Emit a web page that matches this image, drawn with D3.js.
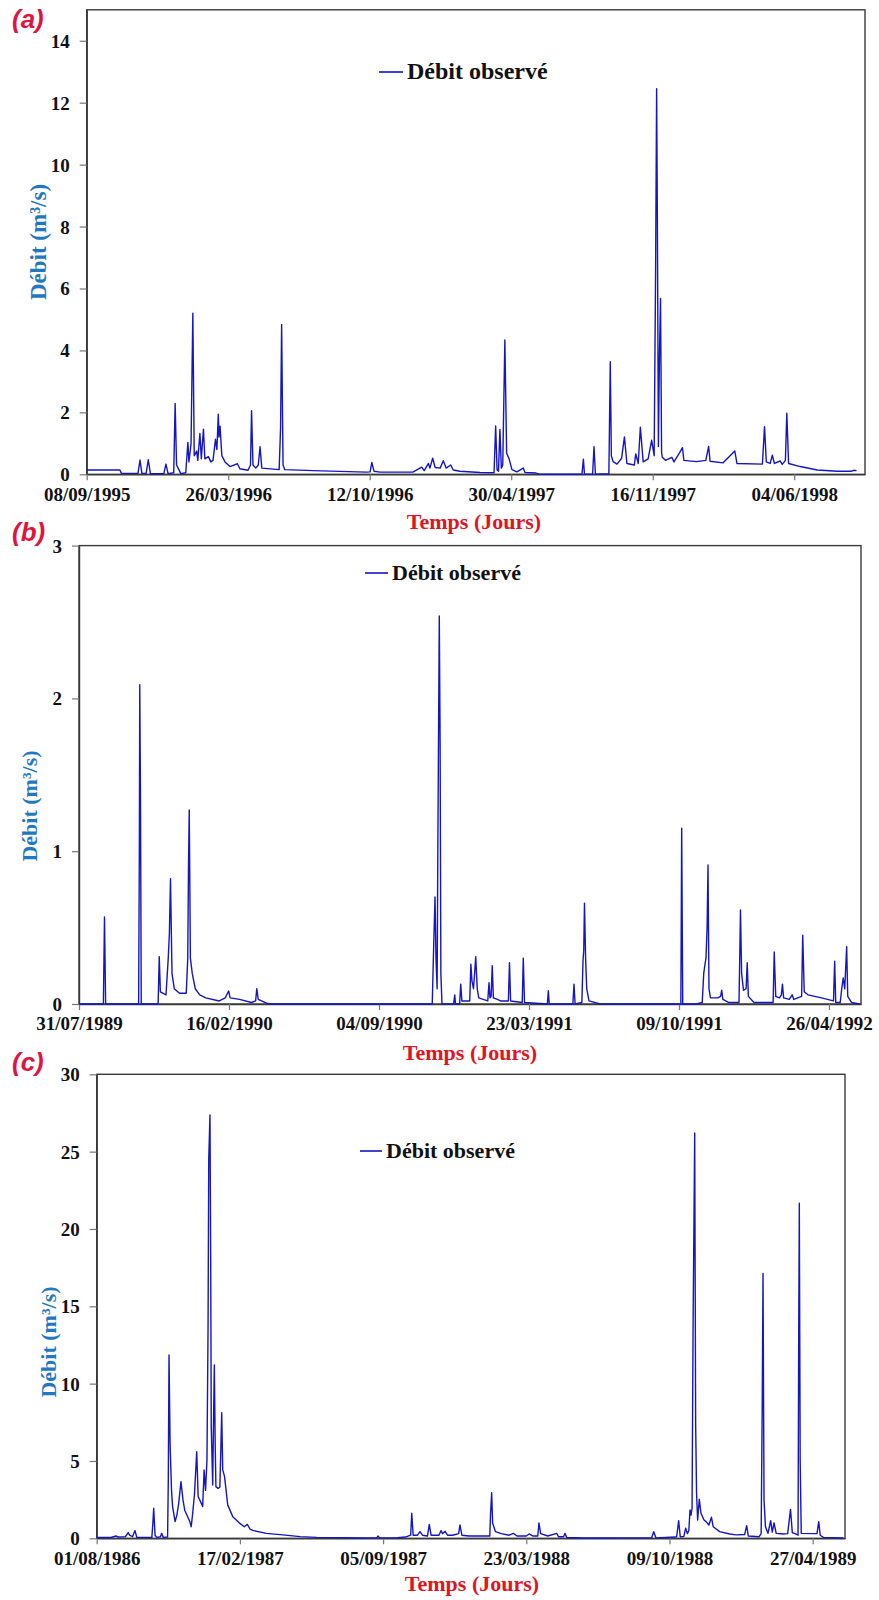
<!DOCTYPE html>
<html>
<head>
<meta charset="utf-8">
<script src="https://cdn.jsdelivr.net/npm/d3@7"></script>
<style>
  body { margin: 0; background: #fff; }
  svg { display: block; }
  .tick text { font-family: "Liberation Serif", "Times New Roman", serif; font-weight: bold; font-size: 19px; fill: #111; }
</style>
</head>
<body>
<script>
// tick labels (dates every 200 days) for each panel
var ticksA = ["08/09/1995", "26/03/1996", "12/10/1996", "30/04/1997", "16/11/1997", "04/06/1998"];
var ticksB = ["31/07/1989", "16/02/1990", "04/09/1990", "23/03/1991", "09/10/1991", "26/04/1992"];
var ticksC = ["01/08/1986", "17/02/1987", "05/09/1987", "23/03/1988", "09/10/1988", "27/04/1989"];

var yTicksA = [0, 2, 4, 6, 8, 10, 12, 14];
var yTicksB = [0, 1, 2, 3];
var yTicksC = [0, 5, 10, 15, 20, 25, 30];

var flowA = [[0,0.14],[47,0.14],[49,0.03],[72.5,0.03],[75.3,0.46],[78,0.03],[84,0.03],[87,0.47],[90,0.02],
  [109,0.02],[112,0.33],[115,0.02],[123,0.05],[125,2.29],[127,0.3],[131,0.12],[133,0.02],[140,0.05],
  [143,1.03],[144.5,0.4],[147.5,1.0],[150,5.2],[152,0.6],[155.5,0.75],[157,0.45],[160,1.32],[162,0.5],
  [165,1.46],[167,0.5],[172,0.57],[175.5,0.4],[178.5,0.45],[182,1.13],[184,0.8],[186,1.94],[187,1.2],
  [188.5,1.55],[191,0.6],[195.5,0.4],[202.5,0.25],[213,0.34],[216.5,0.18],[228,0.13],[231.5,0.3],
  [233,2.05],[235,0.3],[239,0.2],[242.5,0.3],[245,0.89],[247.5,0.2],[272,0.15],[274,1.5],[275.5,4.84],
  [277.5,0.3],[280,0.15],[320,0.12],[395,0.07],[400.5,0.08],[403,0.38],[406,0.1],[414.5,0.07],[461,0.07],
  [473.5,0.23],[477,0.12],[483,0.35],[485,0.2],[489,0.52],[492.5,0.22],[499.5,0.2],[504,0.44],[508,0.2],
  [514.5,0.3],[518,0.14],[527.5,0.1],[556,0.06],[575.7,0.05],[578,1.56],[580,0.15],[582,0.1],[584,1.45],
  [586,0.2],[588,0.3],[591,4.34],[593.5,0.68],[597,0.5],[601,0.15],[608,0.08],[617,0.2],[619.5,0.06],
  [635,0.04],[640.5,0],[700,0],[702,0.49],[703.5,0],[715,0],[717,0.89],[719,0],[738,0.02],[740,3.64],
  [741.5,0.6],[744,0.41],[749.5,0.33],[756,0.52],[760,1.21],[763.5,0.35],[774,0.3],[776,0.66],[779.5,0.35],
  [782.5,1.52],[786.5,0.4],[793.5,0.5],[798.5,1.1],[802,0.6],[804,6.4],[805.5,12.45],[806.5,8.45],
  [808,0.9],[809.5,3.85],[811,5.68],[812.5,0.7],[813.5,0.55],[818,0.45],[827,0.55],[830,0.4],[838,0.7],
  [842,0.86],[844,0.45],[862,0.41],[875,0.45],[879,0.9],[881,0.42],[899.5,0.37],[916,0.75],[919,0.35],
  [955,0.33],[958,1.54],[960.5,0.4],[966,0.35],[969,0.62],[972,0.35],[980,0.43],[983,0.32],[987.5,0.45],
  [989.5,1.97],[992,0.35],[1008.5,0.25],[1032.5,0.14],[1061,0.1],[1081,0.1],[1084,0.13],[1088,0.12]];

var flowB = [[0,0],[32.5,0],[34,0.57],[35.5,0],[79.5,0],[80.5,1.05],[81,2.09],[82,1.35],[83,0],[105.5,0],
  [107,0.31],[108.5,0.08],[116,0.06],[119,0.3],[120.5,0.46],[122,0.82],[124,0.2],[127,0.1],[134,0.07],
  [143,0.07],[145,0.3],[146,0.9],[147,1.27],[148.5,0.3],[151,0.2],[155,0.1],[161,0.06],[169,0.04],
  [187,0.02],[195,0.04],[199.5,0.085],[201.5,0.04],[214,0.03],[230,0.01],[235.5,0.02],[237,0.1],[239,0.03],
  [250,0.005],[256,0],[471,0],[472.5,0.3],[474.7,0.7],[476,0.3],[477.5,0.1],[478.5,1.05],[480.4,2.54],
  [481.5,1.7],[482.5,0.2],[484,0],[499.5,0],[501,0.06],[502,0],[507.5,0],[509,0.13],[510.5,0.02],[521,0.02],
  [522.5,0.26],[524,0.15],[526,0.1],[527.5,0.2],[529,0.31],[531,0.1],[533,0.04],[545,0.02],[546.7,0.14],
  [548,0.04],[549.5,0.05],[551,0.25],[552.5,0.04],[558,0.03],[562,0.02],[572.5,0.02],[574,0.27],[575.5,0.02],
  [591,0.01],[592.4,0.3],[594,0.01],[624.5,0],[625.8,0.087],[627,0],[658.5,0],[660,0.13],[661.5,0],
  [670.5,0.01],[672,0.28],[673,0.35],[674,0.66],[675.5,0.3],[677,0.1],[680,0.02],[695,0],[802.5,0],
  [803.6,1.15],[805,0],[823,0],[831,0.01],[833,0.2],[834.7,0.26],[836,0.3],[837.5,0.5],[838.7,0.91],
  [840,0.1],[842,0.04],[852,0.04],[855.5,0.05],[857,0.09],[858.5,0.03],[866,0.01],[880,0.01],[881,0.3],
  [882,0.615],[883.5,0.2],[886,0.09],[889.5,0.1],[891,0.27],[892.5,0.05],[900,0.01],[925.5,0.01],[927,0.34],
  [929,0.05],[934,0.04],[936.5,0.06],[938,0.13],[939.5,0.04],[947,0.03],[951,0.06],[953,0.03],[963.5,0.05],
  [965,0.45],[967,0.08],[972,0.06],[990,0.04],[1006,0.02],[1007.6,0.28],[1009,0.01],[1015,0.01],[1017,0.1],
  [1019,0.17],[1021,0.1],[1023.6,0.375],[1025,0.05],[1030,0.01],[1041,0]];

var flowC = [[0,0.05],[20,0.05],[27,0.15],[30,0.08],[40,0.1],[44,0.37],[46,0.2],[50,0.1],[53.5,0.5],
  [56,0.06],[77,0.06],[78.5,1.0],[79.6,1.94],[81.5,0.2],[84,0.06],[89,0.1],[90.8,0.32],[93,0.06],[99,0.08],
  [100,3.77],[101,11.85],[102.5,6.1],[104.5,3.1],[106,2.05],[109.5,1.08],[112,1.5],[114.5,2.26],[117.7,3.66],
  [120.5,2.48],[123,1.8],[126,1.51],[130,1.08],[132,0.75],[134,1.6],[136.5,2.8],[139.7,5.6],[141.7,2.7],
  [145,2.37],[148,2.05],[150,4.42],[152,3.1],[154,5.06],[155.5,13.5],[156.5,24.5],[158.2,27.37],
  [159.2,18.3],[160,7.2],[162,3.45],[163,7],[164.3,11.2],[165.5,6],[166.5,3.34],[169.5,3.23],[172,3.3],
  [173.5,6],[174.6,8.12],[176,4.42],[178.5,4.0],[183,2.16],[190,1.4],[199,1.0],[206,0.75],[210.4,0.9],
  [214,0.6],[219,0.5],[237,0.32],[260,0.22],[284,0.11],[307,0.06],[377,0.02],[391,0.03],[393,0.15],
  [395,0.03],[420,0.04],[431,0.08],[438.5,0.2],[440,1.62],[442,0.2],[448,0.2],[451.5,0.43],[455,0.2],
  [462,0.15],[464.5,0.9],[467,0.2],[478,0.2],[481,0.5],[483,0.3],[486.5,0.45],[490,0.2],[497,0.2],
  [505.5,0.3],[507.4,0.86],[510,0.2],[520,0.15],[540,0.15],[549,0.15],[550,1.5],[551.6,2.95],[553,0.97],
  [557,0.43],[565,0.3],[576,0.2],[582,0.32],[587,0.15],[600,0.15],[604,0.28],[609,0.15],[616,0.15],
  [617.7,1.0],[620,0.3],[630,0.15],[642.5,0.32],[645,0.1],[652,0.1],[654,0.32],[656.5,0.05],[680,0.02],
  [775,0.03],[778,0.43],[781,0.03],[808,0.08],[810,0.1],[812.8,1.14],[815,0.1],[820,0.12],[822.6,0.65],
  [825,0.3],[827,0.5],[828.6,1.83],[830,1.5],[831.5,1.94],[833,14.3],[835.2,26.2],[836.5,7.4],[837.8,2.9],
  [839.3,1.18],[841.6,2.52],[844,1.62],[848,1.2],[851,1.08],[855,0.86],[858.6,1.36],[861,0.75],[870,0.43],
  [884,0.28],[893,0.22],[905,0.25],[907.8,0.82],[910,0.15],[925,0.1],[928,0.3],[929.5,8.6],[930.6,17.13],
  [932,2.48],[934,0.75],[937.5,0.32],[941.3,1.14],[943.5,0.4],[946,1.0],[949,0.32],[959,0.28],[965,0.3],
  [969,1.87],[971.5,0.37],[976,0.28],[979.5,0.2],[980.5,13.5],[981.3,21.66],[982.5,5],[984,0.32],
  [1003,0.3],[1006,0.3],[1008.4,1.08],[1010.5,0.2],[1015,0.06],[1042.8,0.02]];

var parse = d3.utcParse("%d/%m/%Y"),
    fmt = d3.utcFormat("%d/%m/%Y"),
    serif = "'Liberation Serif', 'Times New Roman', serif",
    lineColor = "#1515c4";

var svg = d3.select("body").append("svg")
    .attr("width", 879).attr("height", 1600);

function addDays(d, n) {
  return new Date(d.getTime() + n * 864e5);
}

function panel(p) {
  var start = parse(p.ticks[0]);
  var x = d3.scaleUtc()
      .domain([start, addDays(start, p.span)])
      .range([p.left, p.right]);
  var y = d3.scaleLinear()
      .domain([0, p.yMax])
      .range([p.bottom, p.top]);
  var g = svg.append("g");

  // frame
  g.append("rect")
      .attr("x", p.left).attr("y", p.top)
      .attr("width", p.right - p.left).attr("height", p.bottom - p.top)
      .attr("fill", "none").attr("stroke", "#3a3a3a").attr("stroke-width", 1.4);

  var yAxis = g.append("g")
      .attr("transform", "translate(" + p.left + ",0)")
      .call(d3.axisLeft(y).tickValues(p.yTicks).tickFormat(d3.format("d"))
        .tickSize(7).tickPadding(10).tickSizeOuter(0));
  var xAxis = g.append("g")
      .attr("transform", "translate(0," + p.bottom + ")")
      .call(d3.axisBottom(x).tickValues(p.ticks.map(parse)).tickFormat(fmt).tickSize(6).tickSizeOuter(0));
  [yAxis, xAxis].forEach(function(a) {
    a.select(".domain").attr("stroke", "#3a3a3a").attr("stroke-width", 1.4);
    a.selectAll(".tick line").attr("stroke", "#777").attr("stroke-width", 1.2);
  });
  yAxis.selectAll(".tick text").attr("dy", "0.34em");
  xAxis.selectAll(".tick text").attr("y", p.tickOff).attr("dy", 0);

  // hydrograph
  var line = d3.line()
      .x(function(d) { return x(addDays(start, d[0])); })
      .y(function(d) { return y(d[1]); });
  g.append("path")
      .datum(p.data)
      .attr("d", line)
      .attr("fill", "none")
      .attr("stroke", lineColor)
      .attr("stroke-width", 1.4)
      .attr("stroke-linejoin", "round");

  // legend
  g.append("line")
      .attr("x1", p.leg[0]).attr("x2", p.leg[1])
      .attr("y1", p.leg[2]).attr("y2", p.leg[2])
      .attr("stroke", lineColor).attr("stroke-width", 1.6);
  g.append("text")
      .attr("x", p.leg[1] + 4).attr("y", p.leg[2] + 7)
      .attr("font-family", serif).attr("font-weight", "bold")
      .attr("font-size", p.legSize).attr("fill", "#111")
      .text("Débit observé");

  // axis titles
  g.append("text")
      .attr("transform", "translate(" + p.yTitle[0] + "," + p.yTitle[1] + ") rotate(-90)")
      .attr("text-anchor", "middle")
      .attr("font-family", serif).attr("font-weight", "bold")
      .attr("font-size", p.yTitleSize).attr("fill", "#1f78c0")
      .text("Débit (m³/s)");
  g.append("text")
      .attr("x", p.xTitle[0]).attr("y", p.xTitle[1])
      .attr("text-anchor", "middle")
      .attr("font-family", serif).attr("font-weight", "bold")
      .attr("font-size", 22).attr("fill", "#e3121f")
      .text("Temps (Jours)");

  // panel letter
  g.append("text")
      .attr("x", 12).attr("y", p.letterY)
      .attr("font-family", "'Liberation Sans', Arial, sans-serif")
      .attr("font-weight", "bold").attr("font-style", "italic")
      .attr("font-size", 26).attr("fill", "#e3123d")
      .text(p.letter);
}

panel({ letter: "(a)", letterY: 28, ticks: ticksA, span: 1100, yMax: 15, yTicks: yTicksA, data: flowA,
  left: 86.7, right: 865, top: 9.8, bottom: 474.3, tickOff: 27,
  leg: [379, 403, 72], legSize: 24, yTitle: [46, 242], yTitleSize: 23, xTitle: [474, 529] });

panel({ letter: "(b)", letterY: 541, ticks: ticksB, span: 1042.7, yMax: 3, yTicks: yTicksB, data: flowB,
  left: 79, right: 861, top: 545.6, bottom: 1004, tickOff: 26,
  leg: [365, 388, 573], legSize: 22, yTitle: [37, 806], yTitleSize: 22, xTitle: [470, 1060] });

panel({ letter: "(c)", letterY: 1071, ticks: ticksC, span: 1045.1, yMax: 30, yTicks: yTicksC, data: flowC,
  left: 96.7, right: 845, top: 1074.3, bottom: 1538.3, tickOff: 27,
  leg: [360, 382, 1151], legSize: 22, yTitle: [56, 1342], yTitleSize: 22, xTitle: [472, 1591] });
</script>
</body>
</html>
